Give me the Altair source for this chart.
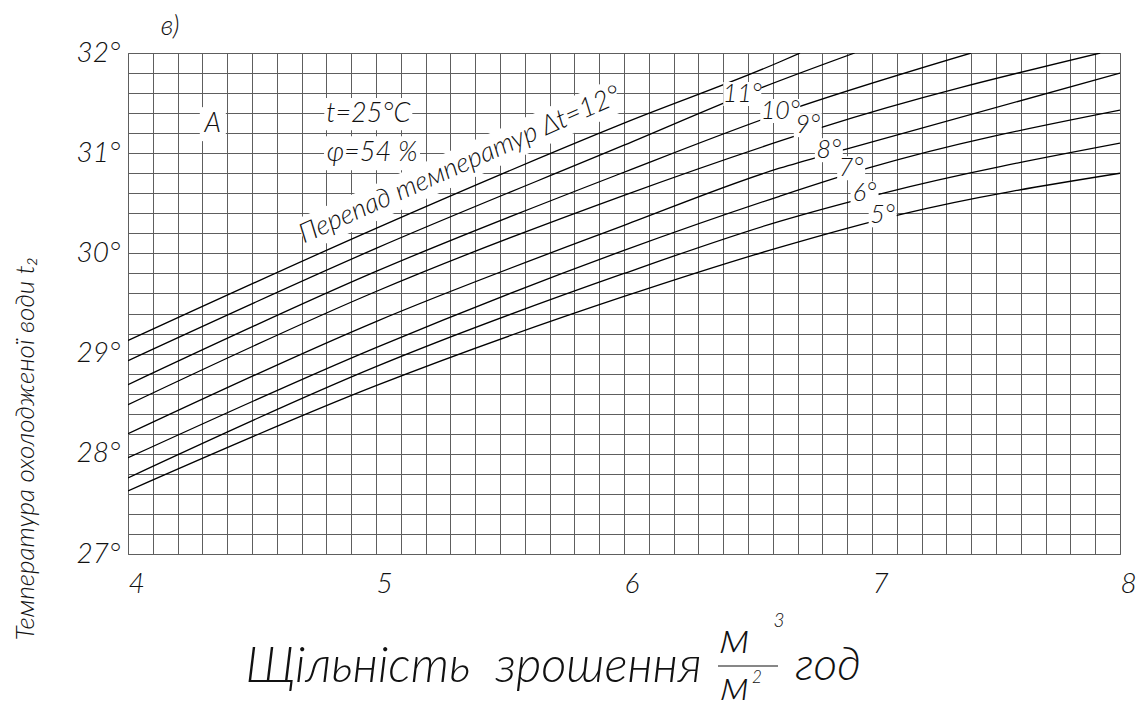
import altair as alt
import pandas as pd
import numpy as np

FONT = "Lato, DejaVu Sans"
FW = 300

# ---- curve data (Δt label, x = irrigation density, y = cooled water temp) ----
dt_list = [12, 11, 10, 9, 8, 7, 6, 5]
x12 = [4.0, 5.0, 6.0, 6.627, 6.71]
y12 = [29.13, 30.25, 31.30, 31.91, 32.0]
x11 = [4.0, 5.0, 6.0, 6.546, 6.93]
y11 = [28.93, 30.05, 31.08, 31.645, 32.0]
x10 = [4.0, 5.0, 6.0, 6.63, 7.40]
y10 = [28.69, 29.82, 30.81, 31.40, 32.0]
x9 = [4.0, 5.0, 6.0, 6.627, 6.80, 7.92]
y9 = [28.49, 29.62, 30.58, 31.12, 31.26, 32.0]
x8 = [4.0, 5.0, 6.0, 6.627, 6.896, 8.0]
y8 = [28.20, 29.32, 30.28, 30.85, 31.04, 31.80]
x7 = [4.0, 5.0, 6.0, 6.627, 6.983, 8.0]
y7 = [27.96, 29.06, 30.03, 30.57, 30.85, 31.43]
x6 = [4.0, 5.0, 6.0, 6.627, 7.043, 8.0]
y6 = [27.76, 28.87, 29.80, 30.32, 30.60, 31.10]
x5 = [4.0, 5.0, 6.0, 6.627, 7.117, 8.0]
y5 = [27.63, 28.68, 29.57, 30.06, 30.39, 30.80]

# grid / tick values
x_grid = [round(v, 1) for v in np.arange(4.0, 8.0001, 0.1)]
y_grid = [round(v, 1) for v in np.arange(27.0, 32.0001, 0.2)]

# curve labels
lab_text = ["11°", "10°", "9°", "8°", "7°", "6°", "5°"]
lab_x = [6.477, 6.63, 6.741, 6.826, 6.916, 6.97, 7.043]
lab_y = [31.59, 31.42, 31.28, 31.03, 30.85, 30.60, 30.38]
lab_w = [38, 40, 28, 28, 28, 28, 28]
lab_h = [24, 24, 24, 24, 24, 24, 24]

# free annotations
note_text = ["A", "t=25°C", "φ=54 %", "Перепад температур Δt=12°", "в)"]
note_x = [4.342, 4.969, 4.984, 5.338, 4.17]
note_y = [31.29, 31.39, 31.00, 30.88, 32.26]
note_w = [26, 88, 96, 345, 0]
note_h = [34, 32, 34, 34, 0]
note_angle = [0, 0, 0, 336, 0]

rows = []
for dt, xs, ys in zip(dt_list, [x12, x11, x10, x9, x8, x7, x6, x5],
                      [y12, y11, y10, y9, y8, y7, y6, y5]):
    for i, (xx, yy) in enumerate(zip(xs, ys)):
        rows.append({"dt": dt, "x": xx, "y": yy, "order": i})
curves = pd.DataFrame(rows)

labels = pd.DataFrame({"text": lab_text, "x": lab_x, "y": lab_y, "w": lab_w, "h": lab_h})
notes = pd.DataFrame({"text": note_text, "x": note_x, "y": note_y, "w": note_w,
                      "h": note_h, "angle": note_angle})


def box_df(df, has_angle=False):
    out = df[df["w"] > 0].copy()
    s = np.maximum(out["w"], out["h"]).astype(float)
    out["size"] = s ** 2
    out["shape"] = [
        "M{a:.3f},{b:.3f}L{c:.3f},{b:.3f}L{c:.3f},{d:.3f}L{a:.3f},{d:.3f}Z".format(
            a=-w / m, b=-h / m, c=w / m, d=h / m)
        for w, h, m in zip(out["w"], out["h"], s)
    ]
    if not has_angle:
        out["angle"] = 0
    return out


label_boxes = box_df(labels)
note_boxes = box_df(notes, has_angle=True)
boxes = pd.concat([label_boxes[["x", "y", "size", "shape", "angle"]],
                   note_boxes[["x", "y", "size", "shape", "angle"]]])

xscale = alt.Scale(domain=[4, 8], nice=False, zero=False)
yscale = alt.Scale(domain=[27, 32], nice=False, zero=False)

x_axis = alt.Axis(values=x_grid,
                  labelExpr="datum.value == round(datum.value) ? format(datum.value, 'd') : ''",
                  grid=True, gridColor="#5e5e5e", gridWidth=1, ticks=False, domain=False,
                  labelFont=FONT, labelFontSize=28, labelFontStyle="italic",
                  labelFontWeight=FW, labelAlign="left",
                  labelColor="#111", labelPadding=16,
                  labelFlush=False, labelOverlap=False,
                  title="Щільність \u00a0зрошення", titleFont=FONT, titleFontSize=49,
                  titleFontStyle="italic", titleFontWeight=FW, titleColor="#111",
                  titleX=345, titleY=127, titleAlign="center", titleBaseline="alphabetic")
y_axis = alt.Axis(values=y_grid,
                  labelExpr="datum.value == round(datum.value) ? format(datum.value, 'd') + '°' : ''",
                  grid=True, gridColor="#5e5e5e", gridWidth=1, ticks=False, domain=False,
                  labelFont=FONT, labelFontSize=28, labelFontStyle="italic",
                  labelFontWeight=FW,
                  labelColor="#111", labelPadding=8, labelFlush=False, labelOverlap=False,
                  title="Температура охолодженої води t₂", titleFont=FONT, titleFontSize=26,
                  titleFontStyle="italic", titleFontWeight=FW, titleColor="#111",
                  titleAngle=270, titleX=-103, titleY=395, titleAlign="center",
                  titleBaseline="middle")

X = alt.X("x:Q", scale=xscale, axis=x_axis)
Y = alt.Y("y:Q", scale=yscale, axis=y_axis)

lines = alt.Chart(curves).mark_line(color="black", strokeWidth=1.3,
                                    interpolate="monotone", clip=True).encode(
    x=X, y=Y, detail="dt:N", order="order:Q",
)

box_layer = alt.Chart(boxes).mark_point(filled=True, fill="white", opacity=1,
                                        strokeWidth=0).encode(
    x=X, y=Y,
    shape=alt.Shape("shape:N", scale=None, legend=None),
    size=alt.Size("size:Q", scale=None, legend=None),
    angle=alt.Angle("angle:Q", scale=None),
)

label_text = alt.Chart(labels).mark_text(font=FONT, fontSize=25, fontStyle="italic",
                                         fontWeight=FW, color="#111", align="center",
                                         baseline="middle").encode(
    x=X, y=Y, text="text:N",
)

note_main = alt.Chart(notes[notes["angle"] == 0]).mark_text(
    font=FONT, fontSize=27, fontStyle="italic", fontWeight=FW, color="#111",
    align="center", baseline="middle").encode(
    x=X, y=Y, text="text:N",
)
note_rot = alt.Chart(notes[notes["angle"] != 0]).mark_text(
    font=FONT, fontSize=27, fontStyle="italic", fontWeight=FW, color="#111",
    align="center", baseline="middle", angle=336).encode(
    x=X, y=Y, text="text:N",
)

# unit fraction of the x title (m^3 / m^2 h), placed in pixels under the plot
unit_t = ["м", "3", "м", "2", "год"]
unit_px = [607, 651, 607, 629, 700]
unit_py = [600, 574, 647, 630, 627]
unit_fs = [44, 19, 42, 17, 46]
one = pd.DataFrame({"k": [0]})
unit_layers = []
for t, px, py, fs in zip(unit_t, unit_px, unit_py, unit_fs):
    unit_layers.append(
        alt.Chart(one).mark_text(text=t, font=FONT, fontStyle="italic", fontWeight=FW,
                                 color="#111", fontSize=fs, align="center",
                                 baseline="alphabetic").encode(
            x=alt.value(px), y=alt.value(py))
    )
frac_line = alt.Chart(one).mark_rule(color="#111", strokeWidth=1.2).encode(
    x=alt.value(590), x2=alt.value(650), y=alt.value(613)
)

chart = alt.layer(lines, box_layer, label_text, note_main, note_rot, *unit_layers,
                  frac_line).properties(
    width=992, height=501,
    padding={"left": 120, "top": 45, "right": 18, "bottom": 160},
    autosize=alt.AutoSizeParams(type="none"),
    background="white",
).configure_view(stroke="#5e5e5e", strokeWidth=1)

chart.save("out.html", embed_options={"renderer": "svg", "actions": False})
